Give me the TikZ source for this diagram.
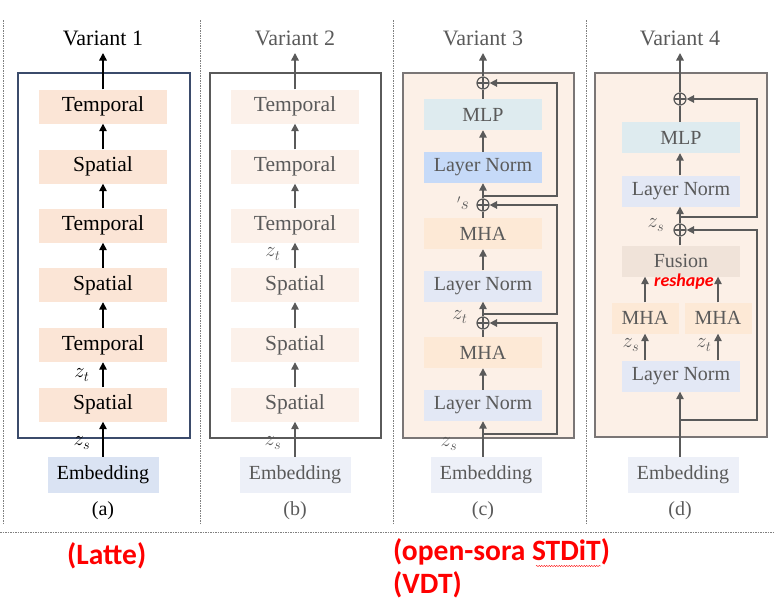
\documentclass[tikz,border=0pt]{standalone}
\usepackage{fontspec}
\setmainfont{Liberation Serif}
\newfontfamily\notefont{Carlito}
\usetikzlibrary{arrows.meta,decorations.pathmorphing}
\definecolor{peach}{HTML}{FBE5D6}
\definecolor{pale}{HTML}{FCF1EA}
\definecolor{embA}{HTML}{DAE3F3}
\definecolor{embB}{HTML}{EDF0F8}
\definecolor{boxfill}{HTML}{FCF0E7}
\definecolor{mlpfill}{HTML}{DEEBEF}
\definecolor{lnblue}{HTML}{C6DAF8}
\definecolor{lnfill}{HTML}{E3E8F5}
\definecolor{mhafill}{HTML}{FDE9D6}
\definecolor{fusefill}{HTML}{F0E3D9}
\definecolor{navy}{HTML}{3B4B6B}
\definecolor{ink}{HTML}{5A5A5A}
\definecolor{rim}{HTML}{7A7676}

\begin{document}
\begin{tikzpicture}[x=1pt,y=-1pt,
	blk/.style={minimum width=128pt,minimum height=34pt,inner sep=0pt,font=\fontsize{21.5}{24}\selectfont},
	sblk/.style={blk,minimum width=118pt,minimum height=31pt,text=ink,font=\fontsize{20}{24}\selectfont},
	emb/.style={blk,minimum width=111pt,minimum height=36pt,font=\fontsize{20}{24}\selectfont},
	ttl/.style={inner sep=0pt,font=\fontsize{22}{24}\selectfont},
	lbl/.style={inner sep=0pt,font=\fontsize{22}{24}\selectfont},
	up/.style={-{Triangle[width=7.5pt,length=7.5pt]},line width=1.5pt},
	gup/.style={up,draw=ink},
	addop/.style={circle,draw=ink,line width=1.2pt,minimum size=12pt,inner sep=0pt,
		path picture={\draw[ink,line width=1.2pt] (path picture bounding box.north) -- (path picture bounding box.south)
			(path picture bounding box.west) -- (path picture bounding box.east);}},
	sep/.style={gray,line width=0.6pt,dash pattern=on 1.5pt off 1pt},
	note/.style={inner sep=0pt,anchor=west,text=red,font=\notefont\bfseries\fontsize{29.5}{32}\selectfont}]
	\useasboundingbox (0,0) rectangle (774,603);

	\draw[sep] (3,20) -- (3,523);
	\draw[sep] (200,20) -- (200,523);
	\draw[sep] (393,20) -- (393,523);
	\draw[sep] (586,20) -- (586,523);
	\draw[sep] (0,532) -- (774,532);

	\node[ttl] (ta) at (103,38) {Variant 1};
	\coordinate (a0) at (103,53);
	\draw[navy,line width=1.3pt] (18,73) rectangle (190,438);
	\node[blk,fill=peach] (a1) at (103,106.5) {Temporal};
	\node[blk,fill=peach] (a2) at (103,166.5) {Spatial};
	\node[blk,fill=peach] (a3) at (103,225.5) {Temporal};
	\node[blk,fill=peach] (a4) at (103,285) {Spatial};
	\node[blk,fill=peach] (a5) at (103,345) {Temporal};
	\node[blk,fill=peach] (a6) at (103,404.5) {Spatial};
	\node[emb,fill=embA] (ae) at (103,475) {Embedding};
	\node[ttl,font=\fontsize{20}{24}\selectfont] (ca) at (103,511) {(a)};
	\node[lbl] (za) at (82,375) {$z_t$};
	\node[lbl] (sa) at (82,443) {$z_s$};
	\draw[up] (ae) -- (a6);
	\draw[up] (a6) -- (a5);
	\draw[up] (a5) -- (a4);
	\draw[up] (a4) -- (a3);
	\draw[up] (a3) -- (a2);
	\draw[up] (a2) -- (a1);
	\draw[up] (a1) -- (a0);

	\node[ttl,text=ink] (tb) at (295,38) {Variant 2};
	\coordinate (b0) at (295,53);
	\draw[ink,line width=1.3pt] (210,73) rectangle (381,438);
	\node[blk,fill=pale,text=ink] (b1) at (295,106.5) {Temporal};
	\node[blk,fill=pale,text=ink] (b2) at (295,166.5) {Temporal};
	\node[blk,fill=pale,text=ink] (b3) at (295,225.5) {Temporal};
	\node[blk,fill=pale,text=ink] (b4) at (295,285) {Spatial};
	\node[blk,fill=pale,text=ink] (b5) at (295,345) {Spatial};
	\node[blk,fill=pale,text=ink] (b6) at (295,404.5) {Spatial};
	\node[emb,fill=embB,text=ink] (be) at (295,475) {Embedding};
	\node[ttl,text=ink,font=\fontsize{20}{24}\selectfont] (cb) at (295,511) {(b)};
	\node[lbl,text=ink] (zb) at (273,254) {$z_t$};
	\node[lbl,text=ink] (sb) at (273,443) {$z_s$};
	\draw[gup] (be) -- (b6);
	\draw[gup] (b6) -- (b5);
	\draw[gup] (b5) -- (b4);
	\draw[gup] (b4) -- (b3);
	\draw[gup] (b3) -- (b2);
	\draw[gup] (b2) -- (b1);
	\draw[gup] (b1) -- (b0);

	\node[ttl,text=ink] (tc) at (483,38) {Variant 3};
	\coordinate (c00) at (483,53);
	\draw[rim,fill=boxfill,line width=1.6pt] (403,73) rectangle (574,438);
	\node[addop] (c0) at (483,83) {};
	\node[sblk,fill=mlpfill] (c1) at (483,114.5) {MLP};
	\node[sblk,fill=lnblue] (c2) at (483,167.5) {Layer Norm};
	\node[addop] (c3) at (483,205) {};
	\node[sblk,fill=mhafill] (c4) at (483,233.5) {MHA};
	\node[sblk,fill=lnfill] (c5) at (483,286) {Layer Norm};
	\node[addop] (c6) at (483,323) {};
	\node[sblk,fill=mhafill] (c7) at (483,352.5) {MHA};
	\node[sblk,fill=lnfill] (c8) at (483,405.5) {Layer Norm};
	\node[emb,fill=embB,text=ink] (ce) at (486,475) {Embedding};
	\node[ttl,text=ink,font=\fontsize{20}{24}\selectfont] (cc) at (483,511) {(c)};
	\node[lbl,text=ink] (zc) at (460,317) {$z_t$};
	\node[lbl,text=ink] (sc) at (449,444) {$z_s$};
	\node[lbl,text=ink,font=\fontsize{18}{20}\selectfont] (pc) at (463,203) {$'s$};
	\coordinate (cr) at (557,0);
	\coordinate (c9) at (483,434);
	\coordinate (c10) at (483,314);
	\coordinate (c11) at (483,196);
	\draw[gup] (c8 |- ce.north) -- (c8);
	\draw[gup] (c8) -- (c7);
	\draw[ink,line width=1.5pt] (c7) -- (c6);
	\draw[gup] (c6) -- (c5);
	\draw[gup] (c5) -- (c4);
	\draw[ink,line width=1.5pt] (c4) -- (c3);
	\draw[gup] (c3) -- (c2);
	\draw[gup] (c2) -- (c1);
	\draw[ink,line width=1.5pt] (c1) -- (c0);
	\draw[gup] (c0) -- (c00);
	\draw[gup] (c9) -| (cr |- c6) -- (c6);
	\draw[gup] (c10) -| (cr |- c3) -- (c3);
	\draw[gup] (c11) -| (cr |- c0) -- (c0);

	\node[ttl,text=ink] (td) at (680,38) {Variant 4};
	\coordinate (d00) at (680,53);
	\draw[rim,fill=boxfill,line width=1.6pt] (595,73) rectangle (767,437);
	\node[addop] (d0) at (680,99) {};
	\node[sblk,fill=mlpfill] (d1) at (681,137.5) {MLP};
	\node[sblk,fill=lnfill] (d2) at (681,191) {Layer Norm};
	\node[addop] (d3) at (680,230) {};
	\node[sblk,fill=fusefill] (d4) at (681,261) {Fusion};
	\node[sblk,fill=mhafill,minimum width=67pt] (d5) at (645,318) {MHA};
	\node[sblk,fill=mhafill,minimum width=67pt] (d6) at (718,318) {MHA};
	\node[sblk,fill=lnfill] (d7) at (681,376) {Layer Norm};
	\node[emb,fill=embB,text=ink] (de) at (683,475) {Embedding};
	\node[ttl,text=ink,font=\fontsize{20}{24}\selectfont] (cd) at (680,511) {(d)};
	\node[lbl,text=ink] (sd) at (656,225) {$z_s$};
	\node[lbl,text=ink] (sd2) at (631,345) {$z_s$};
	\node[lbl,text=ink] (zd) at (704,345) {$z_t$};
	\node[inner sep=0pt,text=red,font=\notefont\bfseries\itshape\fontsize{18}{20}\selectfont] (rs) at (684,282) {reshape};
	\coordinate (dr) at (757,0);
	\coordinate (d8) at (680,420);
	\coordinate (d9) at (680,217);
	\draw[gup] (d0 |- de.north) -- (d0 |- d7.south);
	\draw[gup] (d5 |- d7.north) -- (d5);
	\draw[gup] (d6 |- d7.north) -- (d6);
	\draw[gup] (d5) -- (d5 |- d4.south);
	\draw[gup] (d6) -- (d6 |- d4.south);
	\draw[ink,line width=1.5pt] (d0 |- d4.north) -- (d3);
	\draw[gup] (d3) -- (d0 |- d2.south);
	\draw[gup] (d0 |- d2.north) -- (d0 |- d1.south);
	\draw[ink,line width=1.5pt] (d0 |- d1.north) -- (d0);
	\draw[gup] (d0) -- (d00);
	\draw[gup] (d8) -| (dr |- d3) -- (d3);
	\draw[gup] (d9) -| (dr |- d0) -- (d0);

	\node[note] (la) at (67,556) {(Latte)};
	\node[note] (lc) at (393,552) {(open-sora STDiT)};
	\node[note] (lv) at (393,585) {(VDT)};
	\draw[red,line width=0.4pt,decorate,decoration={snake,amplitude=0.6pt,segment length=2.5pt}] (536,566) -- (601,566);
\end{tikzpicture}
\end{document}
